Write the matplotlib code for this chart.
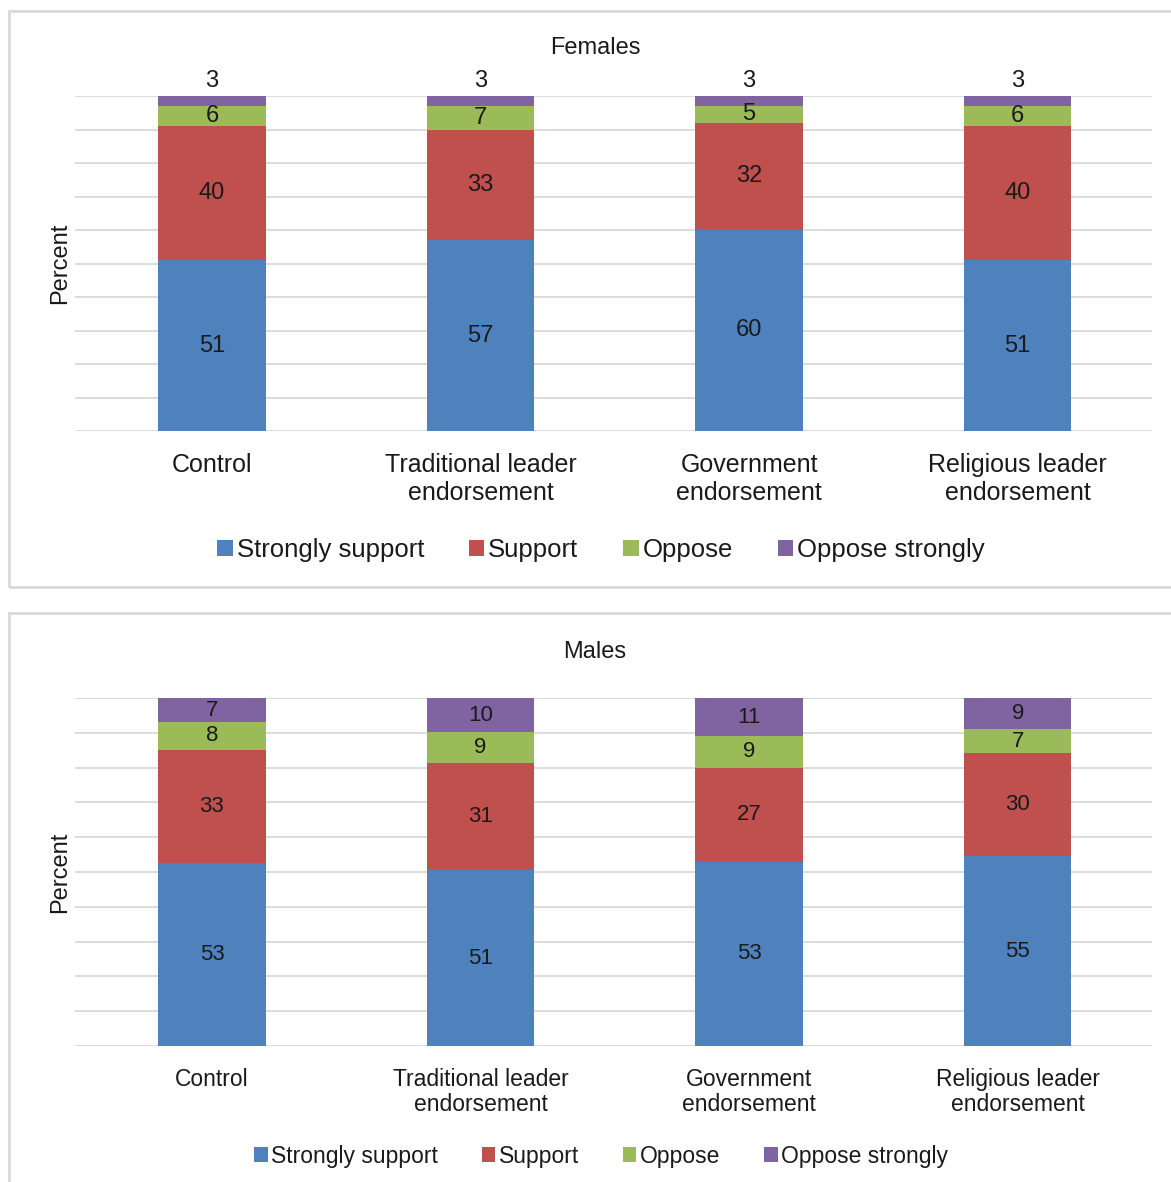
import numpy as np
import matplotlib.pyplot as plt
from matplotlib.patches import Rectangle, Patch

plt.rcParams['font.family'] = ['Liberation Sans', 'DejaVu Sans']

groups = ['Control', 'Traditional leader\nendorsement', 'Government\nendorsement',
          'Religious leader\nendorsement']
responses = ['Strongly support', 'Support', 'Oppose', 'Oppose strongly']
colors = ['#4F81BD', '#C0504D', '#9BBB59', '#8064A2']

# one row per response, one column per group
females = np.array([
    [51, 57, 60, 51],
    [40, 33, 32, 40],
    [6, 7, 5, 6],
    [3, 3, 3, 3],
])
males = np.array([
    [53, 51, 53, 55],
    [33, 31, 27, 30],
    [8, 9, 9, 7],
    [7, 10, 11, 9],
])

W, H = 1171, 1182
fig = plt.figure(figsize=(W / 100, H / 100), dpi=100)


def px_box(x0, y0, x1, y1):
    """pixel box (top-left origin) -> figure fraction rect"""
    return [x0 / W, 1 - y1 / H, (x1 - x0) / W, (y1 - y0) / H]


def stacked_panel(rect, data, title, title_y, tick_fs, label_fs, legend_fs, legend_y,
                  linespacing, colspacing, label_above_small):
    ax = fig.add_axes(rect)
    x = np.arange(len(groups))
    pct = data / data.sum(axis=0) * 100
    bottom = np.zeros(len(groups))
    for i, resp in enumerate(responses):
        ax.bar(x, pct[i], 0.4, bottom=bottom, color=colors[i], zorder=2)
        for j in range(len(groups)):
            val = data[i, j]
            top = bottom[j] + pct[i, j]
            if label_above_small and i == len(responses) - 1 and val <= 3:
                ax.annotate(str(val), (x[j], top), xytext=(0, 3), textcoords='offset points',
                            ha='center', va='bottom', fontsize=label_fs, color='#1a1a1a')
            else:
                ax.text(x[j], bottom[j] + pct[i, j] / 2, str(val), ha='center', va='center',
                        fontsize=label_fs, color='#1a1a1a', zorder=3)
        bottom += pct[i]

    ax.set_xlim(-0.51, len(groups) - 0.5)
    ax.set_ylim(0, 100)
    ax.set_yticks(np.arange(0, 101, 10))
    ax.set_yticklabels([])
    ax.grid(axis='y', color='#d9d9d9', lw=1.3, zorder=0)
    ax.tick_params(length=0)
    ax.set_xticks(x)
    ax.set_xticklabels(groups, fontsize=tick_fs, color='#1a1a1a', linespacing=linespacing)
    ax.tick_params(axis='x', pad=16)
    for s in ax.spines.values():
        s.set_visible(False)

    fig.text(595 / W, 1 - title_y / H, title, ha='center', va='center',
             fontsize=17, color='#1a1a1a')
    fig.text(60 / W, rect[1] + rect[3] / 2, 'Percent', rotation=90, ha='center', va='center',
             fontsize=17, color='#1a1a1a')

    handles = [Patch(facecolor=c, edgecolor='none') for c in colors]
    fig.legend(handles, responses, loc='center', bbox_to_anchor=(601 / W, 1 - legend_y / H),
               ncol=4, frameon=False, fontsize=legend_fs, handlelength=0.6, handleheight=0.6,
               handletextpad=0.15, columnspacing=colspacing, labelcolor='#1a1a1a')
    return ax


stacked_panel(px_box(75, 96, 1152, 431), females, 'Females', 48, 18, 17, 18.5, 550,
              1.2, 1.75, True)
stacked_panel(px_box(75, 698, 1152, 1046), males, 'Males', 652, 16.5, 16, 16.5, 1156,
              1.1, 1.9, False)

# light grey frames around each panel
for y0, y1 in [(11, 587), (613, 1190)]:
    r = px_box(9, y0, 1180, y1)
    fig.patches.append(Rectangle((r[0], r[1]), r[2], r[3], transform=fig.transFigure,
                                 fill=False, edgecolor='#d9d9d9', lw=2))

fig.savefig('out.png', dpi=100)
